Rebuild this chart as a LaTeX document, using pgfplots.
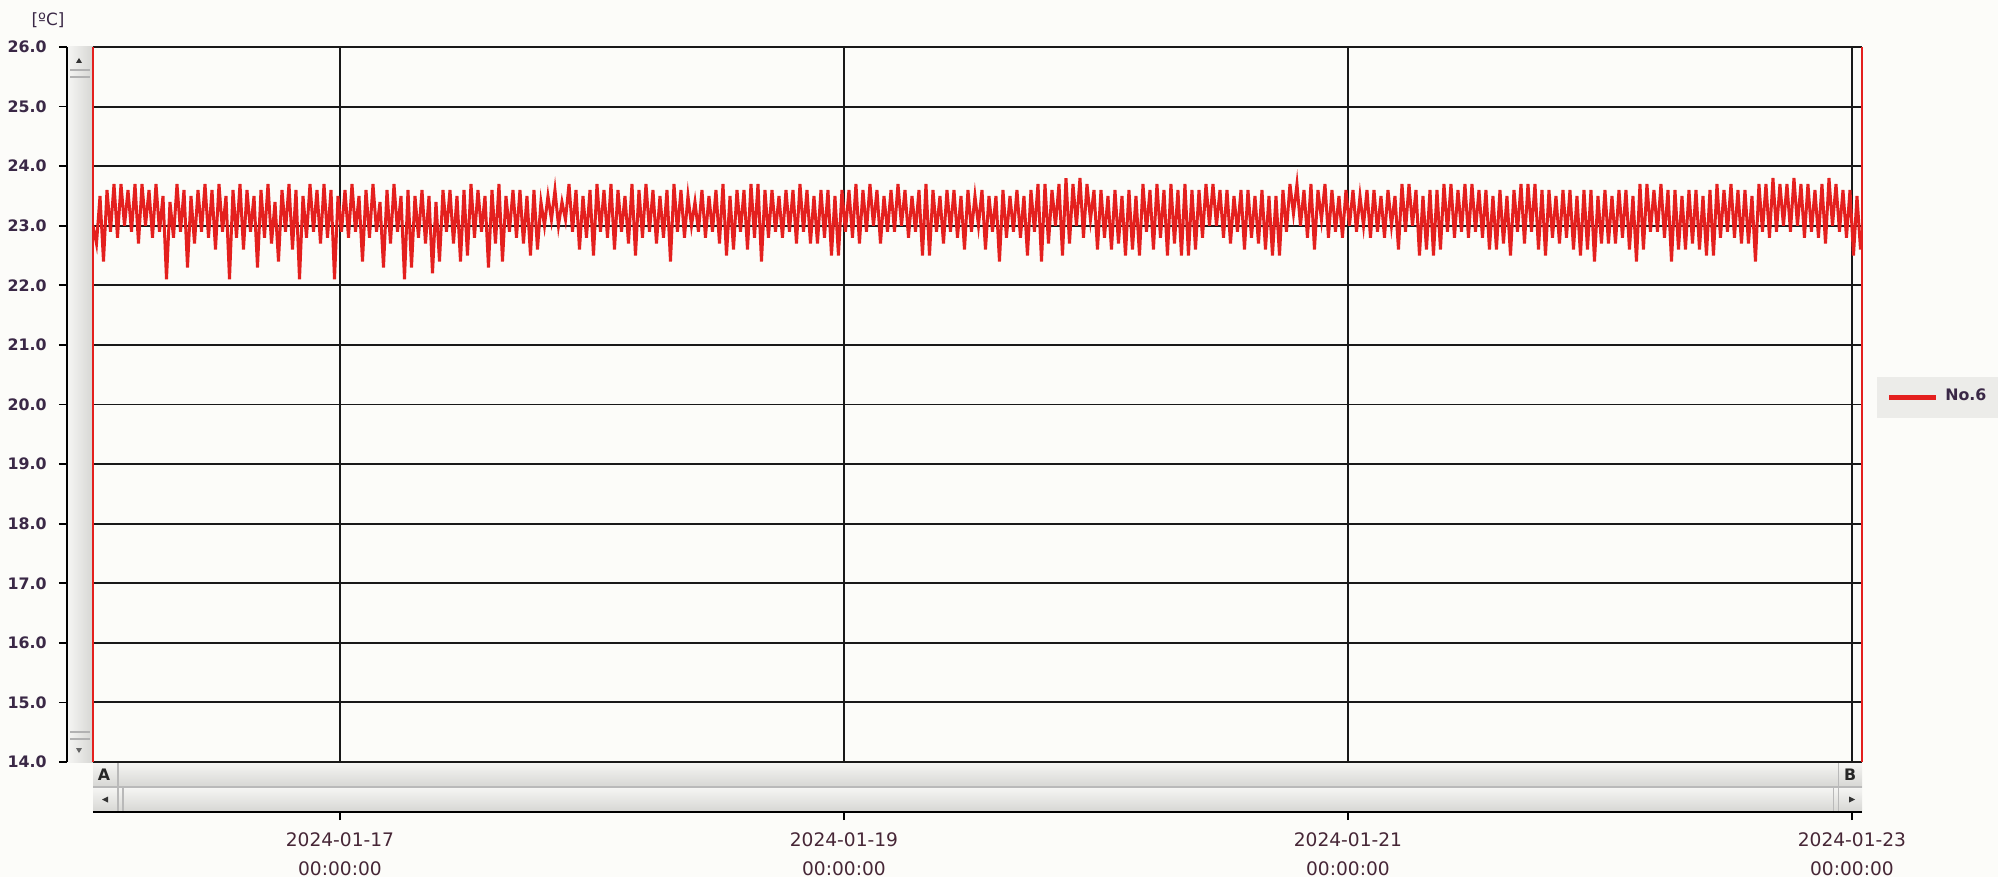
\documentclass[border=0pt]{standalone}
\usepackage{fontspec}
\setmainfont{DejaVu Sans}
\usepackage{pgfplots}
\pgfplotsset{compat=1.18}
\usepackage{pgfplotstable}

\definecolor{paper}{RGB}{252,252,249}
\definecolor{trace}{RGB}{228,32,30}
\definecolor{labelink}{RGB}{58,40,70}
\definecolor{dateink}{RGB}{70,38,54}
\definecolor{legendbg}{RGB}{236,236,233}
\definecolor{barlight}{RGB}{246,246,244}
\definecolor{bardark}{RGB}{214,214,211}

% temperature No.6, one reading every 20 min from 2024-01-16 00:30
\pgfplotstableread[row sep=\\]{
t\\
% 01-16
23.0\\ 22.7\\ 23.5\\ 22.4\\ 23.6\\ 22.9\\ 23.7\\ 22.8\\ 23.7\\ 23.0\\ 23.6\\ 22.9\\ 23.7\\ 22.7\\ 23.7\\ 23.0\\ 23.6\\ 22.8\\ 23.7\\ 22.9\\ 23.5\\ 22.1\\ 23.4\\ 22.8\\
23.7\\ 22.9\\ 23.6\\ 22.3\\ 23.5\\ 22.7\\ 23.6\\ 22.9\\ 23.7\\ 22.8\\ 23.6\\ 22.6\\ 23.7\\ 22.9\\ 23.5\\ 22.1\\ 23.6\\ 22.8\\ 23.7\\ 22.6\\ 23.6\\ 22.9\\ 23.5\\ 22.3\\
23.6\\ 22.8\\ 23.7\\ 22.7\\ 23.4\\ 22.4\\ 23.6\\ 22.9\\ 23.7\\ 22.6\\ 23.6\\ 22.1\\ 23.5\\ 22.8\\ 23.7\\ 22.9\\ 23.6\\ 22.7\\ 23.7\\ 22.8\\ 23.6\\ 22.1\\ 23.5\\ 22.9\\
% 01-17
23.6\\ 22.8\\ 23.7\\ 22.9\\ 23.5\\ 22.4\\ 23.6\\ 22.8\\ 23.7\\ 22.9\\ 23.4\\ 22.3\\ 23.6\\ 22.7\\ 23.7\\ 22.9\\ 23.5\\ 22.1\\ 23.6\\ 22.3\\ 23.5\\ 22.8\\ 23.6\\ 22.7\\
23.5\\ 22.2\\ 23.4\\ 22.4\\ 23.6\\ 22.9\\ 23.6\\ 22.7\\ 23.5\\ 22.4\\ 23.6\\ 22.5\\ 23.7\\ 22.8\\ 23.6\\ 22.9\\ 23.5\\ 22.3\\ 23.6\\ 22.7\\ 23.7\\ 22.4\\ 23.5\\ 22.9\\
23.6\\ 22.8\\ 23.6\\ 22.7\\ 23.5\\ 22.5\\ 23.6\\ 22.6\\ 23.4\\ 23.0\\ 23.5\\ 23.1\\ 23.6\\ 23.0\\ 23.4\\ 23.1\\ 23.7\\ 22.9\\ 23.6\\ 22.6\\ 23.5\\ 22.8\\ 23.6\\ 22.5\\
% 01-18
23.7\\ 22.9\\ 23.6\\ 22.8\\ 23.7\\ 22.6\\ 23.6\\ 22.9\\ 23.5\\ 22.7\\ 23.7\\ 22.5\\ 23.6\\ 22.8\\ 23.7\\ 22.9\\ 23.6\\ 22.7\\ 23.5\\ 22.8\\ 23.6\\ 22.4\\ 23.7\\ 22.9\\
23.6\\ 22.8\\ 23.5\\ 23.0\\ 23.4\\ 22.9\\ 23.6\\ 22.8\\ 23.5\\ 22.9\\ 23.6\\ 22.7\\ 23.7\\ 22.5\\ 23.5\\ 22.6\\ 23.6\\ 22.9\\ 23.6\\ 22.6\\ 23.7\\ 22.8\\ 23.7\\ 22.4\\
23.6\\ 22.8\\ 23.6\\ 22.9\\ 23.5\\ 22.8\\ 23.6\\ 22.9\\ 23.6\\ 22.7\\ 23.7\\ 22.9\\ 23.6\\ 22.7\\ 23.5\\ 22.7\\ 23.6\\ 22.8\\ 23.6\\ 22.5\\ 23.5\\ 22.5\\ 23.6\\ 22.9\\
% 01-19
23.6\\ 22.8\\ 23.7\\ 22.7\\ 23.6\\ 22.9\\ 23.7\\ 23.0\\ 23.6\\ 22.7\\ 23.5\\ 22.9\\ 23.6\\ 22.9\\ 23.7\\ 23.0\\ 23.6\\ 22.8\\ 23.5\\ 22.9\\ 23.6\\ 22.5\\ 23.7\\ 22.5\\
23.6\\ 22.9\\ 23.5\\ 22.7\\ 23.6\\ 22.9\\ 23.6\\ 22.8\\ 23.5\\ 22.6\\ 23.6\\ 22.9\\ 23.5\\ 23.0\\ 23.6\\ 22.6\\ 23.5\\ 22.9\\ 23.5\\ 22.4\\ 23.6\\ 22.8\\ 23.5\\ 22.9\\
23.6\\ 22.8\\ 23.5\\ 22.5\\ 23.6\\ 22.9\\ 23.7\\ 22.4\\ 23.7\\ 22.7\\ 23.6\\ 23.0\\ 23.7\\ 22.5\\ 23.8\\ 22.7\\ 23.7\\ 23.0\\ 23.8\\ 22.8\\ 23.7\\ 23.1\\ 23.6\\ 22.6\\
% 01-20
23.6\\ 22.8\\ 23.5\\ 22.6\\ 23.6\\ 22.7\\ 23.5\\ 22.5\\ 23.6\\ 22.6\\ 23.5\\ 22.5\\ 23.7\\ 22.9\\ 23.6\\ 22.6\\ 23.7\\ 22.8\\ 23.6\\ 22.5\\ 23.7\\ 22.7\\ 23.6\\ 22.5\\
23.7\\ 22.5\\ 23.6\\ 22.6\\ 23.6\\ 22.8\\ 23.7\\ 23.0\\ 23.7\\ 23.0\\ 23.6\\ 22.8\\ 23.6\\ 22.7\\ 23.5\\ 22.9\\ 23.6\\ 22.6\\ 23.6\\ 22.8\\ 23.5\\ 22.7\\ 23.6\\ 22.6\\
23.5\\ 22.5\\ 23.5\\ 22.5\\ 23.6\\ 22.9\\ 23.7\\ 23.2\\ 23.7\\ 23.0\\ 23.6\\ 22.8\\ 23.7\\ 22.6\\ 23.6\\ 23.1\\ 23.7\\ 22.8\\ 23.6\\ 22.9\\ 23.5\\ 22.8\\ 23.6\\ 23.0\\
% 01-21
23.6\\ 22.9\\ 23.5\\ 23.0\\ 23.6\\ 22.8\\ 23.6\\ 22.9\\ 23.5\\ 22.8\\ 23.6\\ 23.0\\ 23.5\\ 22.6\\ 23.7\\ 22.9\\ 23.7\\ 23.0\\ 23.6\\ 22.5\\ 23.5\\ 22.6\\ 23.6\\ 22.5\\
23.6\\ 22.6\\ 23.7\\ 22.9\\ 23.7\\ 22.8\\ 23.6\\ 22.9\\ 23.7\\ 22.8\\ 23.7\\ 22.9\\ 23.6\\ 22.8\\ 23.6\\ 22.6\\ 23.5\\ 22.6\\ 23.6\\ 22.7\\ 23.5\\ 22.5\\ 23.6\\ 22.9\\
23.7\\ 22.7\\ 23.7\\ 22.9\\ 23.7\\ 22.6\\ 23.6\\ 22.5\\ 23.6\\ 22.8\\ 23.5\\ 22.7\\ 23.6\\ 22.8\\ 23.6\\ 22.6\\ 23.5\\ 22.5\\ 23.6\\ 22.6\\ 23.6\\ 22.4\\ 23.5\\ 22.7\\
% 01-22
23.6\\ 22.7\\ 23.5\\ 22.7\\ 23.6\\ 22.8\\ 23.6\\ 22.6\\ 23.5\\ 22.4\\ 23.7\\ 22.6\\ 23.7\\ 22.9\\ 23.6\\ 22.9\\ 23.7\\ 22.8\\ 23.6\\ 22.4\\ 23.6\\ 22.6\\ 23.5\\ 22.6\\
23.6\\ 22.7\\ 23.6\\ 22.6\\ 23.5\\ 22.5\\ 23.6\\ 22.5\\ 23.7\\ 22.8\\ 23.6\\ 22.9\\ 23.7\\ 22.8\\ 23.6\\ 22.7\\ 23.6\\ 22.7\\ 23.5\\ 22.4\\ 23.7\\ 22.9\\ 23.7\\ 22.8\\
23.8\\ 22.9\\ 23.7\\ 23.0\\ 23.7\\ 22.9\\ 23.8\\ 23.0\\ 23.7\\ 22.8\\ 23.7\\ 22.9\\ 23.6\\ 22.8\\ 23.7\\ 22.7\\ 23.8\\ 23.0\\ 23.7\\ 22.9\\ 23.6\\ 22.8\\ 23.6\\ 22.5\\
% 01-23
23.5\\ 22.6\\
}\tempdata

\newcommand\tickfont{\fontsize{4.5}{5.5}\selectfont\bfseries}
\newcommand\datefont{\fontsize{5.3}{8.25}\selectfont}

\begin{document}
\begin{tikzpicture}
\fill[paper] (0,0) rectangle (19.98,8.77);
\useasboundingbox (0,0) rectangle (19.98,8.77);

% vertical scroll bar between the scale and the plot
\shade[left color=barlight, right color=bardark] (0.67,1.15) rectangle (0.93,8.30);
\draw[gray!60, line width=0.3pt] (0.70,8.07) -- (0.90,8.07) (0.70,8.00) -- (0.90,8.00)
  (0.70,1.45) -- (0.90,1.45) (0.70,1.38) -- (0.90,1.38);
\fill[black!80] (0.76,8.14) -- (0.82,8.14) -- (0.79,8.19) -- cycle;
\fill[black!60] (0.76,1.29) -- (0.82,1.29) -- (0.79,1.24) -- cycle;

% horizontal scroll bar under the plot
\shade[top color=barlight, bottom color=bardark] (0.93,0.90) rectangle (18.62,1.15);
\shade[top color=barlight, bottom color=bardark] (0.93,0.65) rectangle (18.62,0.90);
\draw[gray!55, line width=0.3pt] (0.93,0.90) -- (18.62,0.90)
  (1.18,0.65) -- (1.18,1.15) (1.23,0.65) -- (1.23,0.90)
  (18.38,0.65) -- (18.38,1.15) (18.33,0.65) -- (18.33,0.90);
\node[font=\tickfont, text=black!85] at (1.04,1.025) {A};
\node[font=\tickfont, text=black!85] at (18.50,1.025) {B};
\fill[black!80] (1.02,0.775) -- (1.08,0.745) -- (1.08,0.805) -- cycle;
\fill[black!80] (18.55,0.775) -- (18.49,0.745) -- (18.49,0.805) -- cycle;

\begin{axis}[
  at={(0.93cm,1.15cm)}, anchor=south west,
  width=17.69cm, height=7.15cm, scale only axis,
  xmin=0.02, xmax=7.04, ymin=14, ymax=26,
  axis x line*=bottom, axis y line*=left,
  axis x line shift=0.50cm, axis y line shift=0.26cm,
  axis line style={black, line width=0.5pt},
  tick align=outside, major tick length=0.08cm,
  tick style={black, line width=0.5pt},
  xtick={1,3,5,7},
  xticklabels={{2024-01-17\\00:00:00},{2024-01-19\\00:00:00},{2024-01-21\\00:00:00},{2024-01-23\\00:00:00}},
  ytick={14,15,...,26},
  yticklabels={14.0,15.0,16.0,17.0,18.0,19.0,20.0,21.0,22.0,23.0,24.0,25.0,26.0},
  xticklabel style={font=\datefont, text=dateink, align=center},
  yticklabel style={font=\tickfont, text=labelink},
  grid=major, major grid style={black!90, line width=0.55pt},
  ylabel={[ºC]},
  every axis y label/.style={at={(axis description cs:-0.0254,1.038)}, anchor=center,
    font=\fontsize{4.8}{5.8}\selectfont, text=labelink},
  legend style={at={(axis description cs:1.0079,0.51)}, anchor=west,
    fill=legendbg, draw=none, font=\tickfont, text=labelink,
    inner xsep=0.1cm, inner ysep=0.05cm},
  legend image code/.code={\draw[#1, line width=1.3pt] (0cm,0cm) -- (0.47cm,0cm);},
]
\addplot[trace, line width=0.85pt] table[x expr=0.02+\coordindex/72, y=t] {\tempdata};
\addlegendentry{No.6}
\end{axis}

% the red pen sits on both side borders of the plot
\draw[trace, line width=0.6pt] (0.93,1.15) -- (0.93,8.30) (18.62,1.15) -- (18.62,8.30);
\end{tikzpicture}
\end{document}
